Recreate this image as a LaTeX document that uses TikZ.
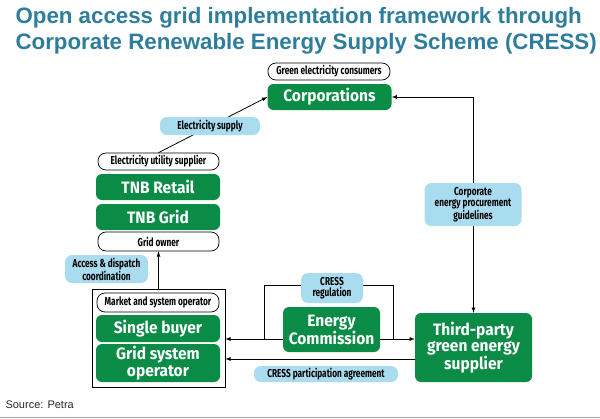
\documentclass[tikz,border=0pt]{standalone}
\usepackage{fontspec}
\setmainfont{Liberation Sans}
\newfontfamily\greenfont[FakeStretch=0.94]{Fira Sans}
\newfontfamily\labfont[FakeStretch=0.72]{Fira Sans}
\usetikzlibrary{calc}
\definecolor{cressgreen}{RGB}{10,140,70}
\definecolor{cressblue}{RGB}{170,220,240}
\definecolor{titleblue}{RGB}{46,125,155}

\begin{document}
\begin{tikzpicture}[x=1pt,y=-1pt,
    greenbox/.style={fill=cressgreen, rounded corners=6pt, text=white, align=center,
      font=\greenfont\bfseries\fontsize{16.5}{16.5}\selectfont, inner sep=0pt},
    ovalbox/.style={draw, line width=0.7pt, fill=white, rounded corners=8pt, align=center,
      font=\labfont\bfseries\fontsize{11.5}{12}\selectfont, inner sep=0pt},
    bluebox/.style={fill=cressblue, rounded corners=7pt, align=center,
      font=\labfont\bfseries\fontsize{11.5}{11.5}\selectfont, inner sep=0pt},
    link/.style={line width=0.8pt, -latex}]
    \useasboundingbox (0,0) rectangle (600,418);
    \node[anchor=west, text=titleblue, font=\bfseries\fontsize{22.3}{26}\selectfont, align=left]
      (title) at (12,31) {Open access grid implementation framework through\\Corporate Renewable Energy Supply Scheme (CRESS)};
    \node[ovalbox, minimum width=122pt, minimum height=17pt] (cons) at (329,71.5) {Green electricity consumers};
    \node[greenbox, minimum width=124pt, minimum height=26pt] (corp) at (329.5,97) {Corporations};
    \node[ovalbox, minimum width=121pt, minimum height=17pt] (eus) at (158.5,161.5) {Electricity utility supplier};
    \node[greenbox, minimum width=124pt, minimum height=26pt] (retail) at (158,187) {TNB Retail};
    \node[greenbox, minimum width=124pt, minimum height=26pt] (grid) at (158,217) {TNB Grid};
    \node[ovalbox, minimum width=121pt, minimum height=19pt] (gowner) at (158.5,241.5) {Grid owner};
    \node[draw, line width=0.7pt, minimum width=133pt, minimum height=98pt, inner sep=0pt] (mso) at (158.5,338) {};
    \node[ovalbox, minimum width=122pt, minimum height=19pt] (msolab) at (158,302.5) {Market and system operator};
    \node[greenbox, minimum width=124pt, minimum height=27pt] (single) at (158,328.5) {Single buyer};
    \node[greenbox, minimum width=124pt, minimum height=38pt] (gso) at (158,363) {Grid system\\operator};
    \node[greenbox, minimum width=117pt, minimum height=69pt] (third) at (473.5,347.5) {Third-party\\green energy\\supplier};
    \coordinate (bl) at (264,339);
    \coordinate (br) at (393,339);
    \coordinate (pa) at (415,359);
    \draw[line width=0.8pt] (bl) -- (264,285) -- (393,285) -- (br) -- (bl);
    \draw[link] (bl) -- (mso.east |- bl);
    \draw[link] (br) -- (third.west |- br);
    \draw[link] (pa) -- (mso.east |- pa);
    \draw[link] (eus.north) -- (corp.west);
    \draw[link] (third.north |- 0,204) |- (corp.east);
    \draw[link] (third.north |- 0,204) -- (third.north);
    \draw[link] (mso.north) -- (gowner.south);
    \node[greenbox, minimum width=97pt, minimum height=45pt] (ec) at (331.5,329.5) {Energy\\Commission};
    \node[bluebox, minimum width=100pt, minimum height=18pt] (elsup) at (210,126) {Electricity supply};
    \node[bluebox, minimum width=83pt, minimum height=28pt] (access) at (106.5,269) {Access \& dispatch\\coordination};
    \node[bluebox, minimum width=97pt, minimum height=43pt] (cepg) at (473,204.5) {Corporate\\energy procurement\\guidelines};
    \node[bluebox, minimum width=62pt, minimum height=30pt] (creg) at (332,288) {CRESS\\regulation};
    \node[bluebox, minimum width=144pt, minimum height=16pt] (cpa) at (326,374) {CRESS participation agreement};
    \node[anchor=west, font=\fontsize{11}{12}\selectfont, text=black!85] (src) at (2,405) {Source: Petra};
    \draw[black!35, line width=1.5pt] (0,417.5) -- (600,417.5);
\end{tikzpicture}
\end{document}
